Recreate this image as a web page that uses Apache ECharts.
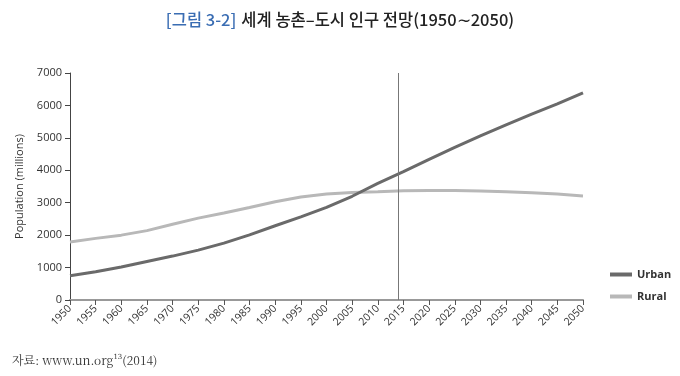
<!DOCTYPE html>
<html>
<head>
<meta charset="utf-8">
<script src="https://cdn.jsdelivr.net/npm/echarts@6/dist/echarts.min.js"></script>
<style>
  html, body { margin: 0; padding: 0; background: #fff; }
  #chart { width: 680px; height: 376px; }
</style>
</head>
<body>
<div id="chart"></div>
<script>
const years = [1950, 1955, 1960, 1965, 1970, 1975, 1980, 1985, 1990, 1995, 2000,
               2005, 2010, 2015, 2020, 2025, 2030, 2035, 2040, 2045, 2050];
const urban = [746, 872, 1019, 1189, 1354, 1538, 1754, 2008, 2290, 2564, 2857,
               3199, 3594, 3957, 4338, 4705, 5058, 5400, 5730, 6046, 6390];
const rural = [1789, 1900, 2000, 2139, 2336, 2524, 2683, 2854, 3032, 3179, 3270,
               3315, 3340, 3372, 3380, 3378, 3362, 3338, 3305, 3265, 3210];
const markYear = 2014;

const chart = echarts.init(document.getElementById('chart'));
const font = "'Open Sans', 'Noto Sans', sans-serif";
const krFont = "'Noto Sans CJK KR', sans-serif";

chart.setOption({
  animation: false,
  title: {
    text: '{a|[그림 3-2]} {b|세계 농촌–도시 인구 전망(1950∼2050)}',
    left: 'center',
    top: 6,
    textStyle: {
      fontWeight: 500,
      rich: {
        a: { color: '#3a6db3', fontSize: 16.5, fontWeight: 500, fontFamily: krFont },
        b: { color: '#222', fontSize: 16.5, fontWeight: 500, fontFamily: krFont }
      }
    }
  },
  legend: {
    orient: 'vertical',
    left: 605,
    top: 264,
    itemGap: 11,
    itemWidth: 22,
    itemHeight: 4,
    icon: 'rect',
    textStyle: { color: '#333', fontSize: 11, fontFamily: font, fontWeight: 'bold' },
    data: ['Urban', 'Rural']
  },
  grid: { left: 70, right: 97, top: 73, bottom: 76 },
  xAxis: {
    type: 'value',
    min: 1950,
    max: 2050,
    interval: 5,
    splitLine: { show: false },
    axisLine: { lineStyle: { color: '#999', width: 2 } },
    axisTick: { show: true, length: 5, lineStyle: { color: '#555' } },
    axisLabel: {
      rotate: 45, color: '#333', fontSize: 10.5, fontFamily: font, margin: 7,
      formatter: v => String(v)
    }
  },
  yAxis: {
    type: 'value',
    min: 0,
    max: 7000,
    interval: 1000,
    name: 'Population (millions)',
    nameLocation: 'middle',
    nameGap: 45,
    nameTextStyle: { color: '#333', fontSize: 11, fontFamily: font },
    splitLine: { show: false },
    axisLine: { show: true, lineStyle: { color: '#444' } },
    axisTick: { show: true, length: 5, lineStyle: { color: '#444' } },
    axisLabel: {
      color: '#333', fontSize: 11, fontFamily: font, margin: 8,
      formatter: v => String(v)
    }
  },
  series: [
    {
      name: 'Urban',
      type: 'line',
      data: years.map((y, i) => [y, urban[i]]),
      showSymbol: false,
      lineStyle: { color: '#6a6a6a', width: 3 },
      itemStyle: { color: '#6a6a6a' },
      markLine: {
        silent: true,
        symbol: 'none',
        label: { show: false },
        lineStyle: { color: '#777', width: 1, type: 'solid' },
        data: [{ xAxis: markYear }]
      },
      z: 3
    },
    {
      name: 'Rural',
      type: 'line',
      data: years.map((y, i) => [y, rural[i]]),
      showSymbol: false,
      lineStyle: { color: '#b8b8b8', width: 3 },
      itemStyle: { color: '#b8b8b8' },
      z: 2
    }
  ],
  graphic: [{
    type: 'text',
    left: 12,
    top: 354,
    style: {
      text: '{t|자료: www.un.org}{s|13}{t|(2014)}',
      rich: {
        t: { fontSize: 12, fill: '#333', fontFamily: "'Noto Serif CJK KR', 'DejaVu Serif', serif" },
        s: { fontSize: 7, fill: '#333', fontFamily: "'DejaVu Serif', serif", verticalAlign: 'top', padding: [0, 0, 6, 0] }
      }
    }
  }]
});
</script>
</body>
</html>
